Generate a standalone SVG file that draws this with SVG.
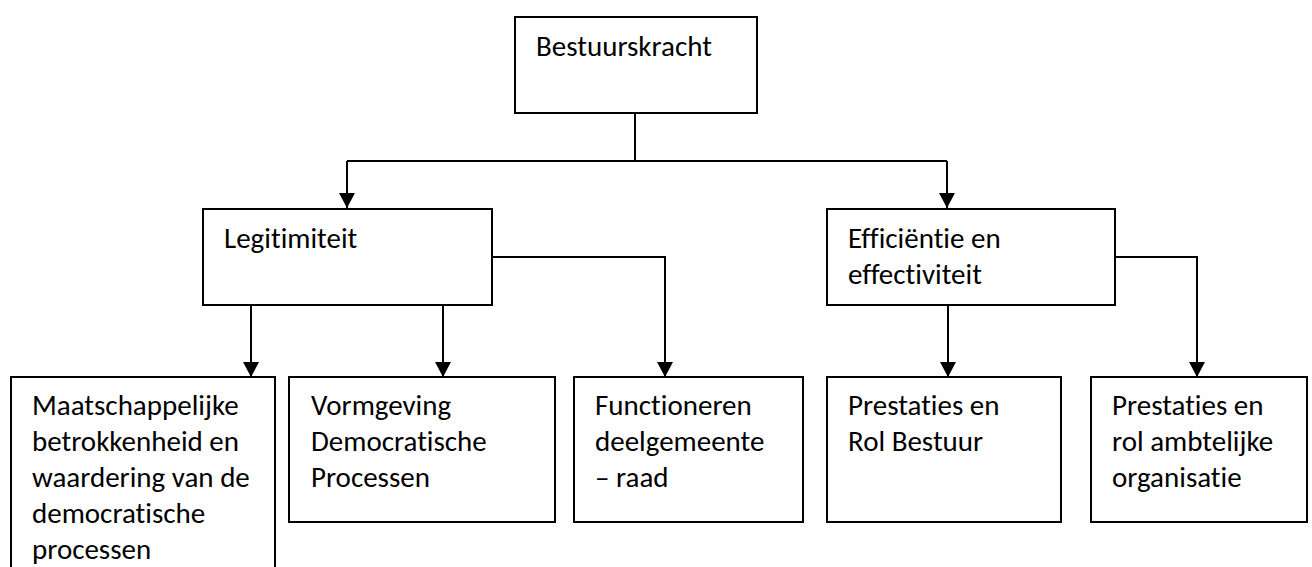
<svg xmlns="http://www.w3.org/2000/svg" width="1312" height="567" viewBox="0 0 1312 567">
<style>
  .box { fill: #ffffff; stroke: #000000; stroke-width: 2; }
  .lbl { font-family: Calibri, Carlito, Lato, "Liberation Sans", sans-serif; font-size: 29px; fill: #000000; font-variant-ligatures: none; }
  .wire { fill: none; stroke: #000000; stroke-width: 2; }
</style>
<defs>
  <marker id="ah" markerUnits="userSpaceOnUse" markerWidth="16" markerHeight="16" refX="15" refY="8" orient="auto" viewBox="0 0 15 16">
    <path d="M0,0 L15,8 L0,16 Z" fill="#000000"/>
  </marker>
</defs>
<rect width="1312" height="567" fill="#ffffff"/>

<g id="connectors">
  <path class="wire" d="M635,113 V161"/>
  <path class="wire" d="M347,161 H947"/>
  <path class="wire" d="M347,161 V208" marker-end="url(#ah)"/>
  <path class="wire" d="M947,161 V208" marker-end="url(#ah)"/>
  <path class="wire" d="M251,305 V377" marker-end="url(#ah)"/>
  <path class="wire" d="M443,305 V377" marker-end="url(#ah)"/>
  <path class="wire" d="M492,257 H665 V377" marker-end="url(#ah)"/>
  <path class="wire" d="M948,305 V377" marker-end="url(#ah)"/>
  <path class="wire" d="M1115,257 H1197 V377" marker-end="url(#ah)"/>
</g>

<g id="node-bestuurskracht">
  <rect class="box" x="515" y="17" width="242" height="96"/>
  <text class="lbl" x="536" y="56">Bestuurskracht</text>
</g>

<g id="node-legitimiteit">
  <rect class="box" x="203" y="209" width="289" height="96"/>
  <text class="lbl" x="224" y="248">Legitimiteit</text>
</g>

<g id="node-efficientie">
  <rect class="box" x="827" y="209" width="288" height="96"/>
  <text class="lbl" x="848" y="248">Efficiëntie en</text>
  <text class="lbl" x="848" y="284">effectiviteit</text>
</g>

<g id="node-maatschappelijke">
  <rect class="box" x="11" y="377" width="264" height="200"/>
  <text class="lbl" x="32" y="415">Maatschappelijke</text>
  <text class="lbl" x="32" y="451">betrokkenheid en</text>
  <text class="lbl" x="32" y="487">waardering van de</text>
  <text class="lbl" x="32" y="523">democratische</text>
  <text class="lbl" x="32" y="559">processen</text>
</g>

<g id="node-vormgeving">
  <rect class="box" x="289" y="377" width="266" height="145"/>
  <text class="lbl" x="311" y="415">Vormgeving</text>
  <text class="lbl" x="311" y="451">Democratische</text>
  <text class="lbl" x="311" y="487">Processen</text>
</g>

<g id="node-functioneren">
  <rect class="box" x="574" y="377" width="229" height="145"/>
  <text class="lbl" x="595" y="415">Functioneren</text>
  <text class="lbl" x="595" y="451">deelgemeente</text>
  <text class="lbl" x="595" y="487">– raad</text>
</g>

<g id="node-prestaties-bestuur">
  <rect class="box" x="827" y="377" width="234" height="145"/>
  <text class="lbl" x="848" y="415">Prestaties en</text>
  <text class="lbl" x="848" y="451">Rol Bestuur</text>
</g>

<g id="node-prestaties-ambtelijk">
  <rect class="box" x="1091" y="377" width="216" height="145"/>
  <text class="lbl" x="1112" y="415">Prestaties en</text>
  <text class="lbl" x="1112" y="451">rol ambtelijke</text>
  <text class="lbl" x="1112" y="487">organisatie</text>
</g>
</svg>
